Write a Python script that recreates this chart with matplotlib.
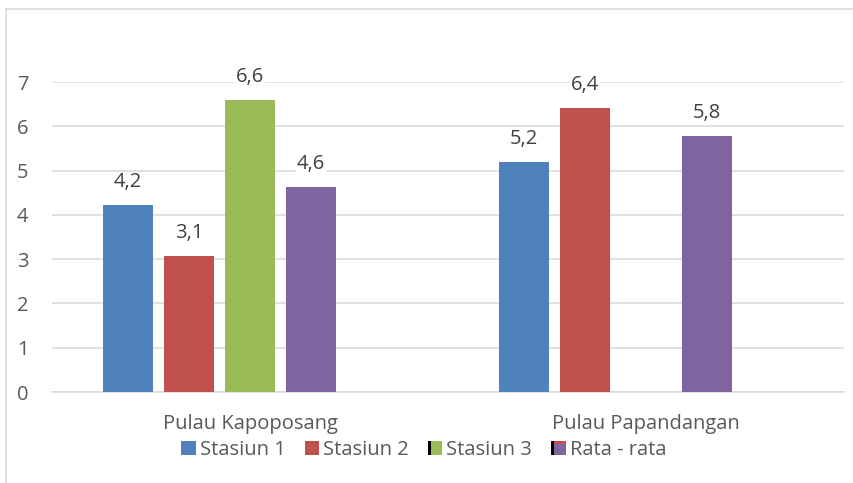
import matplotlib.pyplot as plt
from matplotlib.patches import Patch, Rectangle
from matplotlib.legend_handler import HandlerBase
from matplotlib.lines import Line2D

# data (Excel style, 5 series slots; 5th slot is empty)
categories = ['Pulau Kapoposang', 'Pulau Papandangan']
series_names = ['Stasiun 1', 'Stasiun 2', 'Stasiun 3', 'Rata - rata']
stasiun1 = [4.22, 5.20]
stasiun2 = [3.08, 6.42]
stasiun3 = [6.59, None]
rata_rata = [4.64, 5.79]

colors = ['#4F81BD', '#C0504D', '#9BBB59', '#8064A2']
text_col = '#595959'
grid_col = '#D9D9D9'

plt.rcParams['font.family'] = ['Open Sans', 'DejaVu Sans']


class SwatchHandler(HandlerBase):
    # draws a small square swatch, optionally with a dark strip like the original legend
    def __init__(self, strip=None, top=None):
        super().__init__()
        self.strip = strip
        self.top = top

    def create_artists(self, legend, orig_handle, xdescent, ydescent,
                       width, height, fontsize, trans):
        s = height
        x0 = -xdescent + (width - s)
        y0 = -ydescent
        arts = [Rectangle((x0, y0), s, s, facecolor=orig_handle.get_facecolor(),
                          edgecolor='none', transform=trans)]
        if self.top:
            arts.append(Rectangle((x0, y0 + s * 0.78), s, s * 0.22, facecolor=self.top,
                                  edgecolor='none', transform=trans))
        if self.strip:
            arts.append(Rectangle((x0, y0), s * 0.2, s, facecolor=self.strip,
                                  edgecolor='none', transform=trans))
        return arts


fig = plt.figure(figsize=(8.54, 4.83), dpi=100)
ax = fig.add_axes([52 / 854, 1 - 392 / 483, 792 / 854, 310 / 483])

data = [stasiun1, stasiun2, stasiun3, rata_rata]
slot = 0.154
bw = 0.124
fs = 14.5
handles = []
for i, vals in enumerate(data):
    off = (i - 2) * slot
    for j, v in enumerate(vals):
        if v is None:
            continue
        ax.bar(j + off, v, width=bw, color=colors[i], zorder=3)
        ax.annotate(f'{v:.1f}'.replace('.', ','), (j + off, v), xytext=(0, 16.5),
                    textcoords='offset points', ha='center', va='center',
                    fontsize=fs, color='#404040', zorder=4,
                    bbox=dict(facecolor='white', edgecolor='none', pad=0.5))
    handles.append(Patch(facecolor=colors[i], label=series_names[i]))

ax.set_xlim(-0.5, 1.5)
ax.set_ylim(0, 7)
ax.set_xticks([0, 1])
ax.set_xticklabels(categories)
ax.set_yticks(range(0, 8))
ax.tick_params(axis='both', length=0, labelsize=fs, colors=text_col)
ax.tick_params(axis='y', pad=17)
ax.tick_params(axis='x', pad=16)
ax.yaxis.grid(True, color=grid_col, linewidth=1.1, zorder=0)
for sp in ['top', 'right', 'left']:
    ax.spines[sp].set_visible(False)
ax.spines['bottom'].set_color(grid_col)
ax.spines['bottom'].set_linewidth(1.1)

hmap = {handles[2]: SwatchHandler(strip='black'),
        handles[3]: SwatchHandler(strip='black', top=colors[1]),
        handles[0]: SwatchHandler(), handles[1]: SwatchHandler()}
leg = fig.legend(handles=handles, loc='center', bbox_to_anchor=(0.496, 1 - 450 / 483),
                 ncol=4, frameon=False, fontsize=fs, handler_map=hmap,
                 handlelength=0.75, handleheight=0.75, handletextpad=0.2,
                 columnspacing=0.9, borderpad=0)
for t in leg.get_texts():
    t.set_color(text_col)

# outer chart border (top and left edges visible in the original)
fig.add_artist(Line2D([6 / 854, 6 / 854], [0, 1 - 9 / 483], color=grid_col, linewidth=1.2,
                      transform=fig.transFigure))
fig.add_artist(Line2D([6 / 854, 1], [1 - 9 / 483, 1 - 9 / 483], color=grid_col, linewidth=1.2,
                      transform=fig.transFigure))

fig.savefig('out.png', dpi=100)
